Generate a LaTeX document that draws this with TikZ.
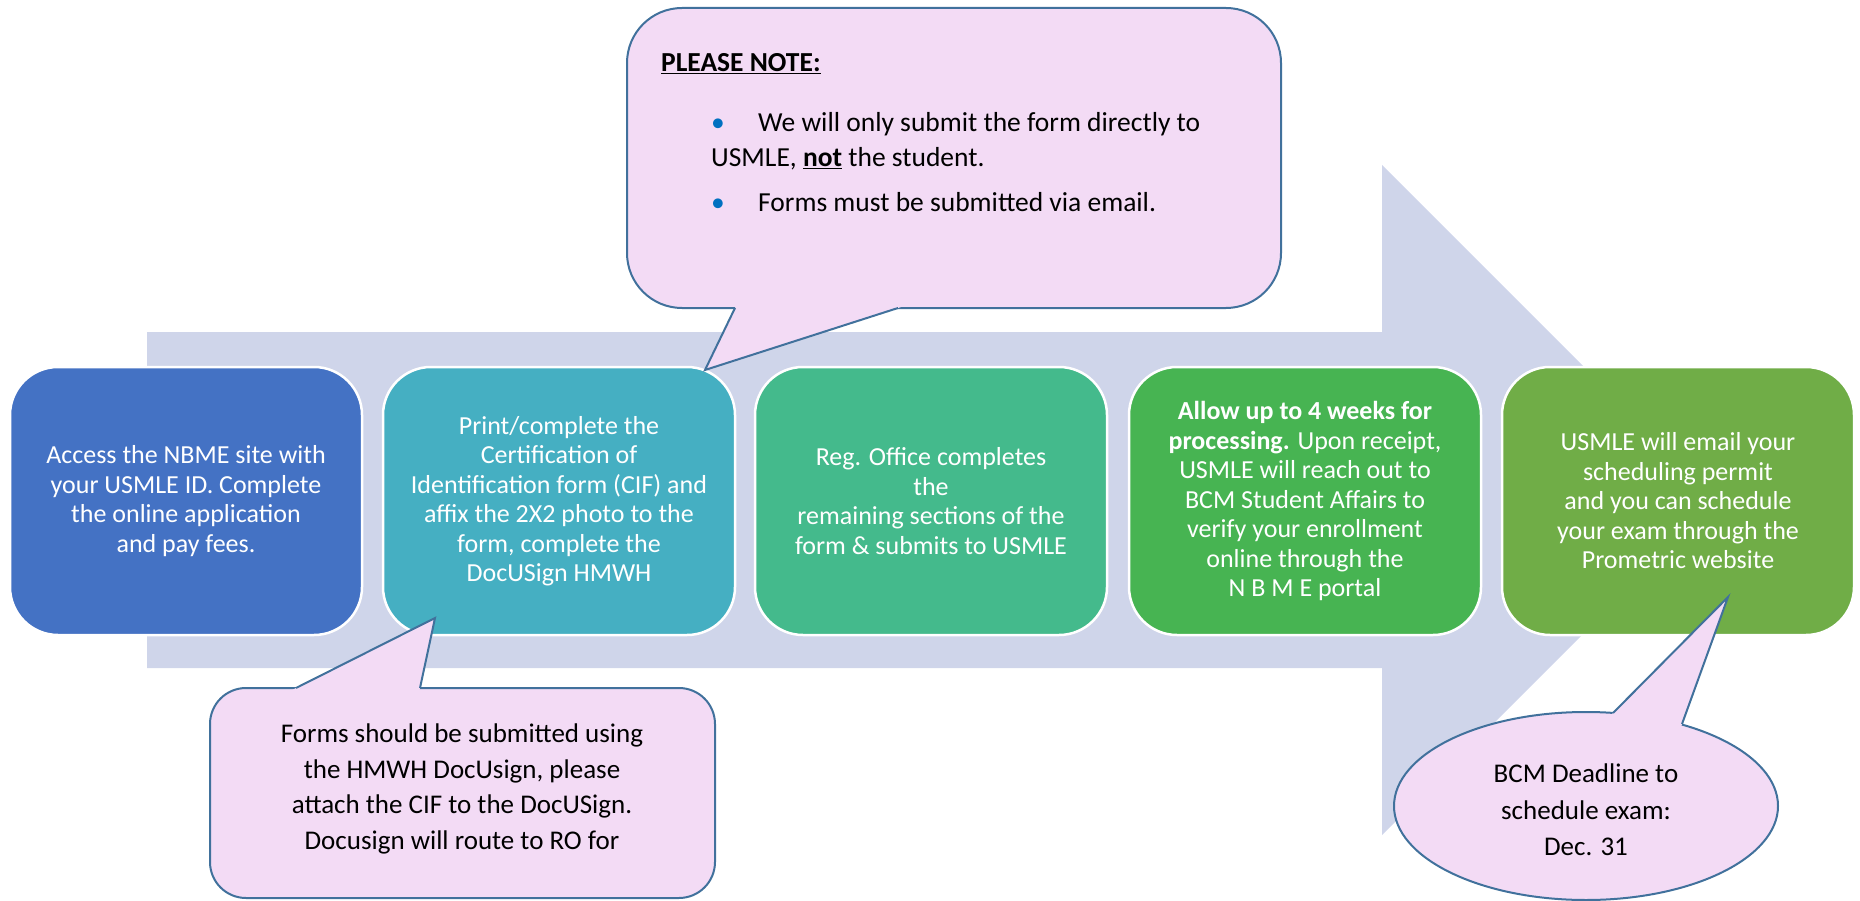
\documentclass[tikz,border=0pt]{standalone}
\usepackage{fontspec}
\setmainfont{Carlito}
\definecolor{arrowc}{HTML}{CFD5EA}
\definecolor{cA}{HTML}{4472C4}
\definecolor{cB}{HTML}{45AFC2}
\definecolor{cC}{HTML}{44BA8C}
\definecolor{cD}{HTML}{47B452}
\definecolor{cE}{HTML}{70AD47}
\definecolor{cfill}{HTML}{F3DBF5}
\definecolor{cline}{HTML}{41719C}
\definecolor{bul}{HTML}{0070C0}
\begin{document}
\begin{tikzpicture}[x=1pt,y=-1pt,
  stepbox/.style={draw=white,line width=2.5pt,rounded corners=48pt,
    minimum width=352pt,minimum height=268pt,inner sep=0pt,
    text=white,align=center,font=\fontsize{26}{29.5}\selectfont},
  callout/.style={fill=cfill,draw=cline,line width=2pt},
  ctext/.style={text=black,align=center,inner sep=0pt,font=\fontsize{27}{35.5}\selectfont},
  ptext/.style={text=black,inner sep=0pt,anchor=base west,font=\fontsize{27.5}{33}\selectfont},
  bulletmark/.style={text=bul,inner sep=0pt,anchor=base,font=\fontsize{27.5}{33}\selectfont}]

\useasboundingbox (0,0) rectangle (1860,901);

% big background arrow
\fill[arrowc] (147,332) -- (1382,332) -- (1382,165) -- (1717,500)
  -- (1382,835) -- (1382,668) -- (147,668) -- cycle;

% step boxes
\node[stepbox,fill=cA] (s1) at (186,501) {Access the NBME site with\\your USMLE ID. Complete\\the online application\\and pay fees.};
\node[stepbox,fill=cB] (s2) at (559,501) {Print/complete the\\Certification of\\Identification form (CIF) and\\affix the 2X2 photo to the\\form, complete the\\DocUSign HMWH};
\node[stepbox,fill=cC] (s3) at (931,501) {Reg. Office completes\\the\\remaining sections of the\\form \& submits to USMLE};
\node[stepbox,fill=cD] (s4) at (1305,501) {\textbf{Allow up to 4 weeks for}\\\textbf{processing.} Upon receipt,\\USMLE will reach out to\\BCM Student Affairs to\\verify your enrollment\\online through the\\N B M E portal};
\node[stepbox,fill=cE] (s5) at (1678,501) {USMLE will email your\\scheduling permit\\and you can schedule\\your exam through the\\Prometric website};

% top callout
\draw[callout,rounded corners=55pt] (627,8) rectangle (1281,308);
\fill[cfill] (705,370) -- (737.9,302) -- (916.7,302) -- cycle;
\draw[cline,line width=2pt] (735,308) -- (705,370) -- (898,308);
\node[ptext] (pn) at (661,72) {\underline{\textbf{PLEASE NOTE:}}};
\node[bulletmark] (b1) at (718,132) {•};
\node[ptext] (l1) at (758,132) {We will only submit the form directly to};
\node[ptext] (l2) at (711,167) {USMLE, \underline{\textbf{not}} the student.};
\node[bulletmark] (b2) at (718,212) {•};
\node[ptext] (l3) at (758,212) {Forms must be submitted via email.};

% bottom-left callout
\draw[callout,rounded corners=36pt] (210,688) rectangle (715,898);
\fill[cfill] (435,618) -- (284.1,694) -- (418.7,694) -- cycle;
\draw[cline,line width=2pt] (296,688) -- (435,618) -- (420,688);
\node[ctext] (n2) at (462,789) {Forms should be submitted using\\the HMWH DocUsign, please\\attach the CIF to the DocUSign.\\Docusign will route to RO for};

% ellipse callout
\draw[callout] (1586,806) ellipse [x radius=192, y radius=94];
\fill[cfill] (1728,597) -- (1607.4,718.7) -- (1679.3,731.5) -- cycle;
\draw[cline,line width=2pt] (1613,713) -- (1728,597) -- (1682,724);
\node[ctext,font=\fontsize{27}{36.5}\selectfont] (n3) at (1586,810) {BCM Deadline to\\schedule exam:\\Dec. 31};
\end{tikzpicture}
\end{document}
